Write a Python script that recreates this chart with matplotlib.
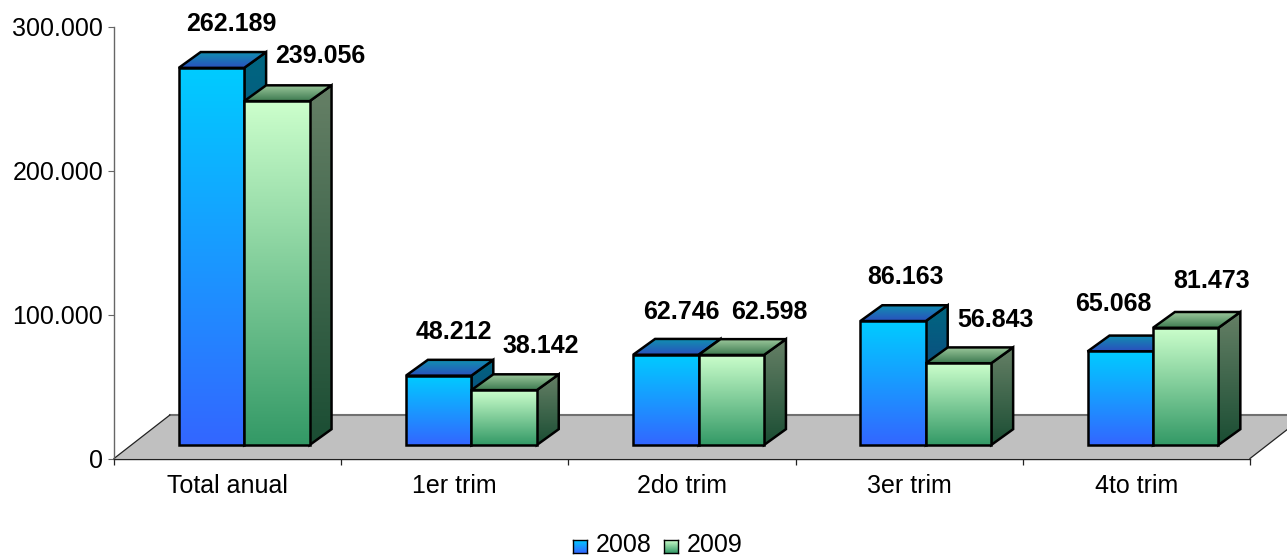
import numpy as np
import matplotlib
matplotlib.use('Agg')
import matplotlib.pyplot as plt
from matplotlib.patches import Polygon
from matplotlib.colors import to_rgb

plt.rcParams['font.family'] = ['Liberation Sans', 'DejaVu Sans']

categories = ['Total anual', '1er trim', '2do trim', '3er trim', '4to trim']
v2008 = [262189, 48212, 62746, 86163, 65068]
v2009 = [239056, 38142, 62598, 56843, 81473]
ytick_vals = [0, 100000, 200000, 300000]
ytick_labels = ['0', '100.000', '200.000', '300.000']
legend_names = ['2008', '2009']

# hand placed label offsets in pixels from the front top centre of each bar
off2008 = [(20, 44), (15, 44), (16, 43), (12, 44), (-7, 47)]
off2009 = [(43, 45), (37, 44), (38, 43), (37, 43), (26, 47)]

# fake 3d geometry
barw = 0.288
shift = 0.073
depth_x = 0.0965
depth_y = 11000
base = 9390
floor_x = 0.246
floor_y = 30240

fs = 18

# gradient colours: front, side, top (first colour is the upper one)
cols2008 = [('#00CCFF', '#3366FF'), ('#006680', '#1A3380'), ('#1190B0', '#2A4FBE')]
cols2009 = [('#CCFFCC', '#339966'), ('#668066', '#1A4D33'), ('#9CC89C', '#3D7A50')]

fig = plt.figure(figsize=(12.87, 5.55), dpi=100)
ax = fig.add_axes([114 / 1287, (555 - 458.5) / 555, (1250 - 114) / 1287, (458.5 - 27) / 555])

zo = [3]


def grad_poly(pts, c_top, c_bot):
    pts = np.array(pts)
    t = np.linspace(0, 1, 256)[:, None]
    img = (1 - t) * np.array(to_rgb(c_top)) + t * np.array(to_rgb(c_bot))
    im = ax.imshow(img[:, None, :], aspect='auto', interpolation='bilinear', origin='upper',
                   extent=(pts[:, 0].min(), pts[:, 0].max(), pts[:, 1].min(), pts[:, 1].max()),
                   zorder=zo[0])
    edge = Polygon(pts, closed=True, fill=False, edgecolor='black', lw=1.8,
                   joinstyle='miter', zorder=zo[0] + 1, transform=ax.transData)
    ax.add_patch(edge)
    im.set_clip_path(Polygon(pts, closed=True, transform=ax.transData))
    zo[0] += 2


def bar3d(x0, val, cols):
    x1 = x0 + barw
    y0 = base
    y1 = base + val
    grad_poly([(x1, y0), (x1 + depth_x, y0 + depth_y), (x1 + depth_x, y1 + depth_y), (x1, y1)], *cols[1])
    grad_poly([(x0, y1), (x1, y1), (x1 + depth_x, y1 + depth_y), (x0 + depth_x, y1 + depth_y)], *cols[2])
    grad_poly([(x0, y0), (x1, y0), (x1, y1), (x0, y1)], *cols[0])


# floor
ax.add_patch(Polygon([(-0.5, 0), (4.5, 0), (4.5 + floor_x, floor_y), (-0.5 + floor_x, floor_y)],
                     closed=True, facecolor='#C0C0C0', edgecolor='none', clip_on=False, zorder=1))
ax.plot([-0.5 + floor_x, 4.5 + floor_x], [floor_y, floor_y], color='#707070', lw=1.5, clip_on=False, zorder=2)
ax.plot([4.5, 4.5 + floor_x], [0, floor_y], color='#222222', lw=0.9, clip_on=False, zorder=2)
ax.plot([-0.5, -0.5 + floor_x], [0, floor_y], color='#222222', lw=0.9, clip_on=False, zorder=2)

for i in range(len(categories)):
    left = i + shift - barw
    bar3d(left, v2008[i], cols2008)
    bar3d(left + barw, v2009[i], cols2009)

    for x0, val, off in [(left, v2008[i], off2008[i]), (left + barw, v2009[i], off2009[i])]:
        ax.annotate(f'{val:,}'.replace(',', '.'), (x0 + barw / 2, base + val), xytext=off,
                    textcoords='offset pixels', ha='center', va='center',
                    fontsize=fs, fontweight='bold', color='black', zorder=100,
                    annotation_clip=False)

ax.set_xlim(-0.5, 4.5)
ax.set_ylim(0, 300000)

ax.set_yticks(ytick_vals)
ax.set_yticklabels(ytick_labels, fontsize=fs)
ax.set_xticks(np.arange(-0.5, 5, 1))
ax.set_xticklabels([])
ax.set_xticks(np.arange(len(categories)), minor=True)
ax.set_xticklabels(categories, minor=True, fontsize=fs)
ax.tick_params(axis='x', which='major', length=4, width=0.9, color='#222222')
ax.tick_params(axis='x', which='minor', length=0, pad=11.5)
ax.tick_params(axis='y', length=4.3, width=0.8, color='#666666', pad=3.5)

for s in ['top', 'right']:
    ax.spines[s].set_visible(False)
ax.spines['left'].set_color('#666666')
ax.spines['left'].set_linewidth(1)
ax.spines['bottom'].set_color('#222222')
ax.spines['bottom'].set_linewidth(1)
ax.spines['bottom'].set_zorder(2.5)

# legend, swatches have the same gradient as the bars
W, H = 1287.0, 555.0
for name, cols, sx, tx in zip(legend_names, [cols2008, cols2009], [573, 664], [596, 687]):
    sw = fig.add_axes([sx / W, (H - 553) / H, 14 / W, 13 / H])
    t = np.linspace(0, 1, 64)[:, None]
    img = (1 - t) * np.array(to_rgb(cols[0][0])) + t * np.array(to_rgb(cols[0][1]))
    sw.imshow(img[:, None, :], aspect='auto')
    sw.set_xticks([])
    sw.set_yticks([])
    for s in sw.spines.values():
        s.set_linewidth(1)
        s.set_color('black')
    fig.text(tx / W, (H - 545.5) / H, name, fontsize=fs, ha='left', va='center')

plt.savefig('out.png', dpi=100)
